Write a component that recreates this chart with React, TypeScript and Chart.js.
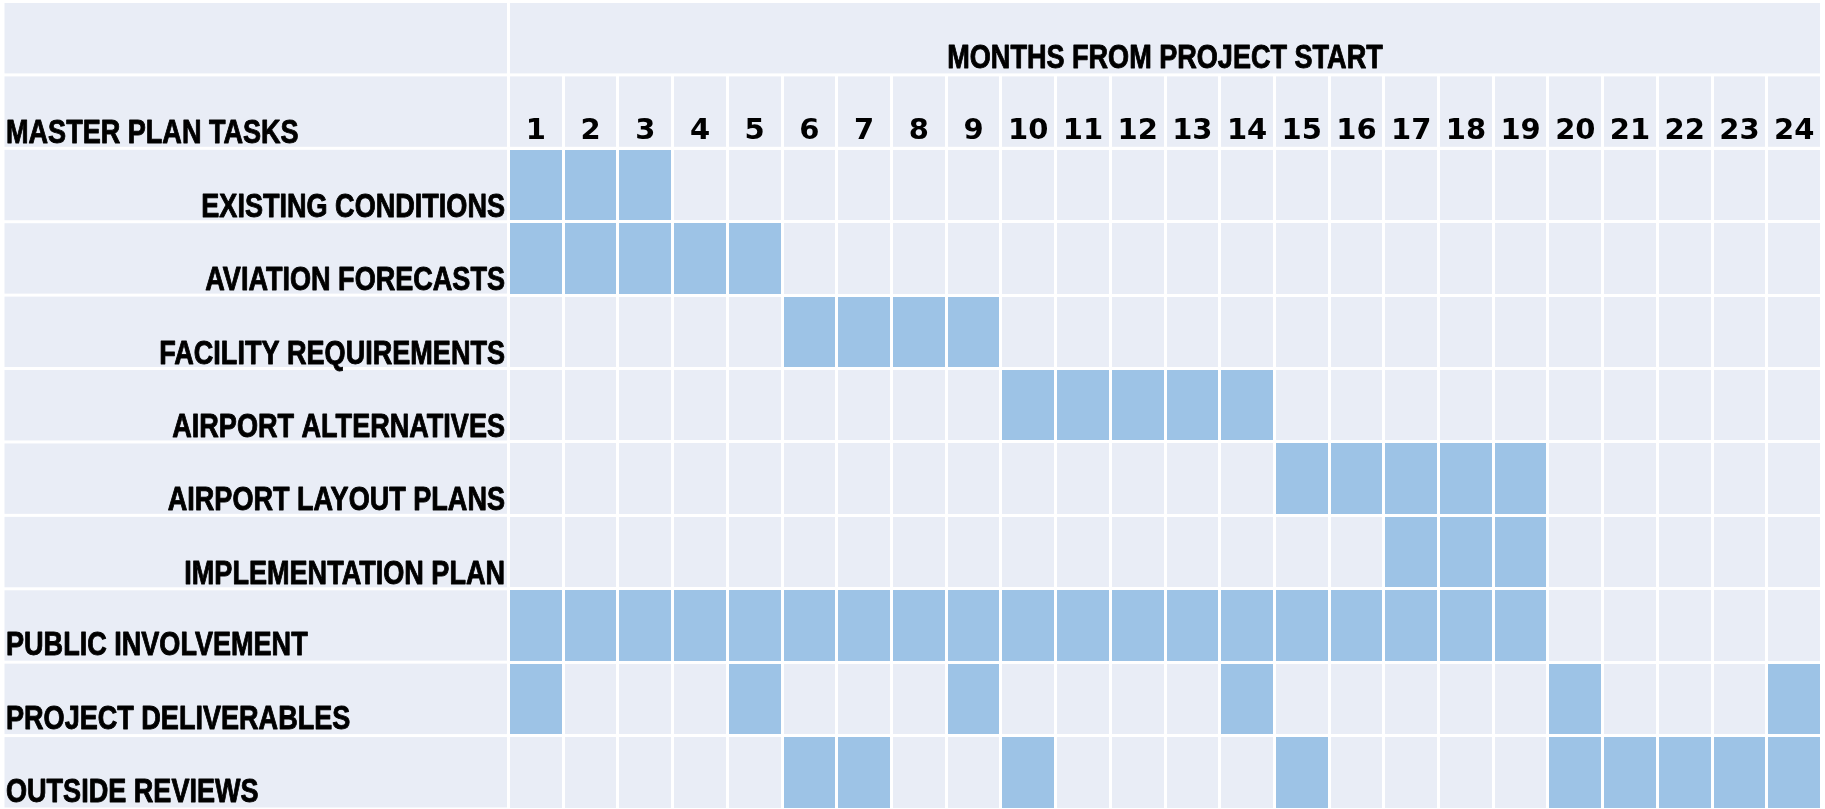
import React, { useEffect, useRef } from "react";
import { Chart, registerables } from "chart.js";

Chart.register(...registerables);

// ---- data ----
const tasks: string[] = [
  "EXISTING CONDITIONS",
  "AVIATION FORECASTS",
  "FACILITY REQUIREMENTS",
  "AIRPORT ALTERNATIVES",
  "AIRPORT LAYOUT PLANS",
  "IMPLEMENTATION PLAN",
  "PUBLIC INVOLVEMENT",
  "PROJECT DELIVERABLES",
  "OUTSIDE REVIEWS",
];

const labelAlign: string[] = [
  "right",
  "right",
  "right",
  "right",
  "right",
  "right",
  "left",
  "left",
  "left",
];

const months: string[] = [
  "1", "2", "3", "4", "5", "6", "7", "8", "9", "10", "11", "12",
  "13", "14", "15", "16", "17", "18", "19", "20", "21", "22", "23", "24",
];

const existingConditions = [1, 2, 3];
const aviationForecasts = [1, 2, 3, 4, 5];
const facilityRequirements = [6, 7, 8, 9];
const airportAlternatives = [10, 11, 12, 13, 14];
const airportLayoutPlans = [15, 16, 17, 18, 19];
const implementationPlan = [17, 18, 19];
const publicInvolvement = [1, 2, 3, 4, 5, 6, 7, 8, 9, 10, 11, 12, 13, 14, 15, 16, 17, 18, 19];
const projectDeliverables = [1, 5, 9, 14, 20, 24];
const outsideReviews = [6, 7, 10, 15, 20, 21, 22, 23, 24];

const activeMonths: number[][] = [
  existingConditions,
  aviationForecasts,
  facilityRequirements,
  airportAlternatives,
  airportLayoutPlans,
  implementationPlan,
  publicInvolvement,
  projectDeliverables,
  outsideReviews,
];

const headerTitle = "MONTHS FROM PROJECT START";
const headerTasks = "MASTER PLAN TASKS";

// ---- style ----
const LIGHT = "#E9EDF6";
const BLUE = "#9DC3E6";
const GAP = 3;
const W = 1825;
const H = 809;
const ROW_H = 73.41;
const LABEL_FONT = "bold 33px 'Liberation Sans', Arial, sans-serif";
const NARROW_SCALE = 0.82;

const barData: { x: [number, number]; y: string }[] = [];
activeMonths.forEach((list, i) => {
  list.forEach((m) => barData.push({ x: [m - 1, m], y: tasks[i] }));
});

function drawNarrow(ctx: CanvasRenderingContext2D, text: string, x: number, y: number, align: CanvasTextAlign) {
  ctx.save();
  ctx.translate(x, y);
  ctx.scale(NARROW_SCALE, 1);
  ctx.textAlign = align;
  ctx.lineWidth = 0.9;
  ctx.strokeStyle = "#000";
  ctx.lineJoin = "round";
  ctx.fillText(text, 0, 0);
  ctx.strokeText(text, 0, 0);
  ctx.restore();
}

const tablePlugin = {
  id: "tableCells",
  beforeDraw(chart: any) {
    const { ctx, chartArea: ca } = chart;
    const y = chart.scales.y;
    const p = (ca.bottom - ca.top) / tasks.length;
    const h = GAP / 2;
    const leftX = 4.5;
    ctx.save();
    ctx.fillStyle = LIGHT;
    ctx.fillRect(ca.left, ca.top, ca.right - ca.left, ca.bottom - ca.top);
    tasks.forEach((_t, i) => {
      const c = y.getPixelForValue(i);
      ctx.fillRect(leftX, c - p / 2 + h, ca.left - h - leftX, p - GAP);
    });
    const r2top = ca.top - p;
    ctx.fillRect(leftX, r2top + h, ca.left - h - leftX, p - GAP);
    ctx.fillRect(ca.left, r2top + h, ca.right - ca.left, p - GAP);
    const r1top = ca.top - 2 * p;
    ctx.fillRect(leftX, r1top + h, ca.left - h - leftX, p - GAP);
    ctx.fillRect(ca.left + h, r1top + h, ca.right - ca.left - GAP, p - GAP);
    ctx.restore();
  },
  afterDraw(chart: any) {
    const { ctx, chartArea: ca } = chart;
    const y = chart.scales.y;
    const xTop = chart.scales.xTop;
    const p = (ca.bottom - ca.top) / tasks.length;
    ctx.save();
    ctx.font = LABEL_FONT;
    ctx.fillStyle = "#000";
    ctx.textBaseline = "alphabetic";
    tasks.forEach((t, i) => {
      const bottom = y.getPixelForValue(i) + p / 2;
      if (labelAlign[i] === "right") {
        drawNarrow(ctx, t, ca.left - 3.5, bottom - 5, "right");
      } else {
        drawNarrow(ctx, t, 6, bottom - 7, "left");
      }
    });
    drawNarrow(ctx, headerTasks, 6, ca.top - 5, "left");
    drawNarrow(ctx, headerTitle, (xTop.left + xTop.right) / 2, ca.top - p - 6.6, "center");
    ctx.restore();
  },
};

export default function App() {
  const ref = useRef<HTMLCanvasElement | null>(null);
  useEffect(() => {
    if (!ref.current) return;
    const chart = new Chart(ref.current, {
      type: "bar",
      data: {
        labels: tasks,
        datasets: [
          {
            data: barData as any,
            backgroundColor: BLUE,
            borderWidth: 0,
            barPercentage: 1,
            categoryPercentage: 1,
          },
        ],
      },
      options: {
        indexAxis: "y",
        animation: false,
        responsive: false,
        events: [],
        layout: { padding: { top: 0, left: 0, right: 3.5, bottom: 0 } },
        plugins: {
          legend: { display: false },
          tooltip: { enabled: false },
        },
        scales: {
          x: { type: "linear", min: 0, max: 24, display: false },
          xTop: {
            type: "category",
            labels: months,
            position: "top",
            offset: true,
            grid: {
              offset: true,
              color: "#FFFFFF",
              lineWidth: 3,
              z: 1,
              drawTicks: true,
              tickLength: ROW_H,
            },
            border: { display: false },
            ticks: {
              color: "#000",
              font: { family: "'DejaVu Sans', sans-serif", size: 29, weight: "bold" },
              padding: -74.2,
              autoSkip: false,
              maxRotation: 0,
              minRotation: 0,
            },
            title: { display: false },
            afterFit: (s: any) => {
              s.height = H - tasks.length * ROW_H;
            },
          },
          y: {
            type: "category",
            position: "left",
            offset: true,
            grid: { offset: true, color: "#FFFFFF", lineWidth: 3, z: 1, drawTicks: false },
            border: { display: false },
            ticks: { display: false },
            afterFit: (s: any) => {
              s.width = 508.5;
            },
          },
        },
      } as any,
      plugins: [tablePlugin],
    });
    return () => chart.destroy();
  }, []);
  return (
    <div style={{ position: "absolute", left: 0, top: 0, width: W, height: H }}>
      <canvas ref={ref} width={W} height={H} style={{ display: "block" }} />
    </div>
  );
}
